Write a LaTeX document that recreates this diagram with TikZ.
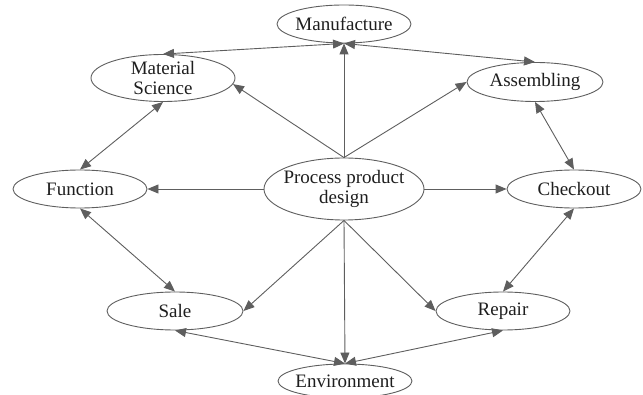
\documentclass[tikz,border=0pt]{standalone}
\usepackage{fontspec}
\setmainfont{Liberation Serif}
\usetikzlibrary{shapes.geometric,arrows.meta}
\definecolor{linec}{HTML}{5E5E5E}
\definecolor{textc}{HTML}{1E1E1E}
\tikzset{
  oval/.style n args={2}{ellipse, draw=linec, line width=0.9pt, inner sep=-20pt,
     minimum width=#1pt, minimum height=#2pt, text=textc,
     font=\fontsize{19}{22}\selectfont, align=center},
  conn/.style={draw=linec, line width=0.9pt, -{Triangle[length=11pt,width=9pt]}},
  biconn/.style={draw=linec, line width=0.9pt, {Triangle[length=11pt,width=9pt]}-{Triangle[length=11pt,width=9pt]}}
}
\begin{document}
\begin{tikzpicture}[x=1pt,y=-1pt]
\useasboundingbox (0,0) rectangle (643,395);
\node[oval={134}{38}] (man) at (344,24) {Manufacture};
\node[oval={144}{47}] (ms) at (163,78) {Material\\[-2pt]Science};
\node[oval={136}{39}] (asm) at (535,82) {Assembling};
\node[oval={134}{38}] (fun) at (80,189) {Function};
\node[oval={160}{62}] (proc) at (344,189) {Process product\\[-2pt]design};
\node[oval={134}{38}] (chk) at (574,189) {Checkout};
\node[oval={136}{38}] (sale) at (175,311) {Sale};
\node[oval={134}{38}] (rep) at (503,311) {Repair};
\node[oval={134}{34}] (env) at (345,381) {Environment};
% from process
\draw[conn] (proc.north) -- (man.south);
\draw[conn] (proc.north) -- (ms.-5);
\draw[conn] (proc.north) -- (asm.west);
\draw[conn] (proc.west) -- (fun.east);
\draw[conn] (proc.east) -- (chk.west);
\draw[conn] (proc.south) -- (sale.east);
\draw[conn] (proc.south) -- (env.north);
\draw[conn] (proc.south) -- (rep.west);
% ring
\draw[biconn] (ms.north) -- (man.south);
\draw[biconn] (man.south) -- (asm.north);
\draw[biconn] (asm.south) -- (chk.north);
\draw[biconn] (chk.south) -- (rep.north);
\draw[biconn] (rep.south) -- (env.north);
\draw[biconn] (sale.south) -- (env.north);
\draw[biconn] (fun.south) -- (sale.north);
\draw[biconn] (ms.south) -- (fun.north);
\end{tikzpicture}
\end{document}
